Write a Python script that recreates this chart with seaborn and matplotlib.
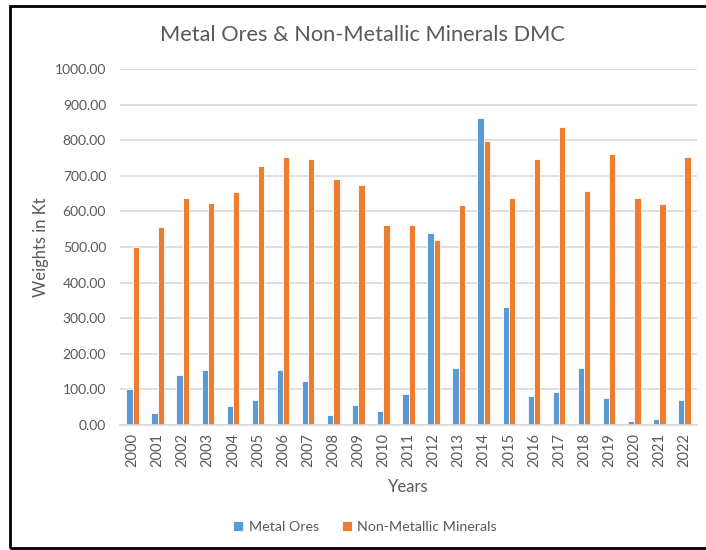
import matplotlib
matplotlib.use("Agg")
import matplotlib.pyplot as plt
import seaborn as sns
import pandas as pd
from matplotlib.patches import Rectangle

years = [str(y) for y in range(2000, 2023)]
metal_ores = [101, 34, 140, 154, 53, 70, 154, 125, 29, 55, 39, 87, 538, 159, 863,
              331, 82, 92, 159, 77, 12, 17, 70]
non_metallic = [499, 557, 637, 623, 655, 728, 754, 748, 692, 675, 562, 562, 519, 617,
                798, 637, 748, 837, 656, 762, 639, 620, 752]
series_names = ["Metal Ores", "Non-Metallic Minerals"]
colors = ["#5B9BD5", "#ED7D31"]
yticks = [0, 100, 200, 300, 400, 500, 600, 700, 800, 900, 1000]

df = pd.DataFrame({
    "Year": years * 2,
    "Value": metal_ores + non_metallic,
    "Series": [series_names[0]] * len(years) + [series_names[1]] * len(years),
})

sns.set_theme(style="white")
plt.rcParams["font.family"] = ["Lato", "DejaVu Sans"]
txt = "#595959"

fig = plt.figure(figsize=(7.06, 5.5), dpi=100)
ax = fig.add_axes([120 / 706, 1 - 425 / 550, (697 - 120) / 706, (425 - 69) / 550])

sns.barplot(data=df, x="Year", y="Value", hue="Series", palette=colors,
            saturation=1, width=0.5, edgecolor="white", linewidth=0.6,
            ax=ax, legend=True)

ax.set_ylim(0, 1000)
ax.set_yticks(yticks)
ax.set_yticklabels([f"{v:.2f}" for v in yticks], color=txt, fontsize=10)
ax.tick_params(axis="x", rotation=90, labelsize=10.5, labelcolor=txt, length=0, pad=6)
ax.tick_params(axis="y", length=0, pad=10)
ax.yaxis.grid(True, color="#D9D9D9", linewidth=1.2)
ax.set_axisbelow(True)
for s in ["top", "right", "left"]:
    ax.spines[s].set_visible(False)
ax.spines["bottom"].set_color("#D9D9D9")
ax.spines["bottom"].set_linewidth(1.2)

ax.set_xlabel("Years", color=txt, fontsize=12, labelpad=8)
ax.set_ylabel("Weights in Kt", color=txt, fontsize=12, labelpad=4)

fig.text(362 / 706, 1 - 35 / 550, "Metal Ores & Non-Metallic Minerals DMC",
         ha="center", va="center", fontsize=15.7, color=txt)

handles, labels = ax.get_legend_handles_labels()
ax.legend_.remove()
fig.legend(handles, labels, loc="center", bbox_to_anchor=(365 / 706, 1 - 527 / 550),
           ncol=2, frameon=False, fontsize=10.3, labelcolor=txt,
           handlelength=0.7, handleheight=0.7, handletextpad=0.4, columnspacing=1.6)

fig.patches.append(Rectangle((10 / 706, 2 / 550), 720 / 706, 542 / 550,
                             transform=fig.transFigure, fill=False,
                             edgecolor="black", linewidth=2.0))

fig.savefig("out.png", dpi=100)
